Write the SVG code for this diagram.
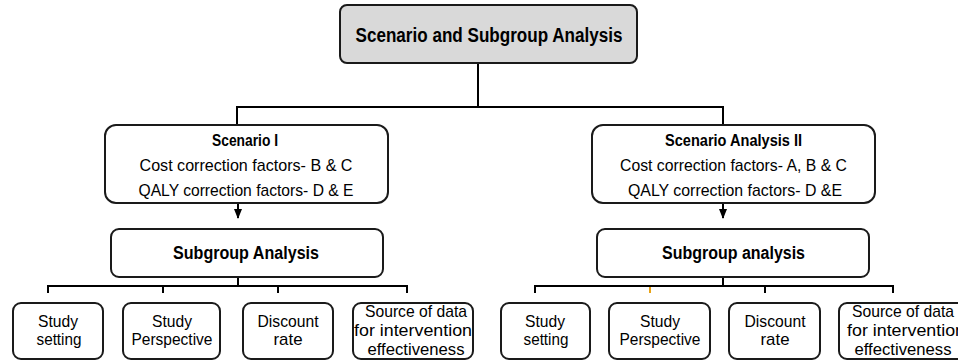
<svg xmlns="http://www.w3.org/2000/svg" width="958" height="361" viewBox="0 0 958 361">
<style>
.box{fill:#ffffff;stroke:#1a1a1a;stroke-width:2}
.top{fill:#d9d9d9;stroke:#1a1a1a;stroke-width:2}
.ln{fill:none;stroke:#000;stroke-width:2}
text{font-family:"Liberation Sans",Arial,sans-serif;fill:#000;text-anchor:middle}
.b{font-weight:bold}
.m{font-size:17px}
.s{font-size:17px}
</style>
<defs>
<marker id="ah" markerWidth="10" markerHeight="8" refX="9" refY="4" orient="auto" markerUnits="userSpaceOnUse">
<path d="M0,0 L10,4 L0,8 Z" fill="#000"/>
</marker>
</defs>
<g id="connectors">
<path class="ln" d="M478,63 V107 M237,107 H723 M237,106 V125 M723,106 V125"/>
<path class="ln" d="M238,203 V218" marker-end="url(#ah)"/>
<path class="ln" d="M723,203 V218" marker-end="url(#ah)"/>
<path class="ln" d="M238,277 V286 M48,286 H407 M48,285 V293 M163,285 V293 M278,285 V293 M407,285 V293"/>
<path class="ln" d="M723,277 V286 M535,286 H893 M535,285 V293 M765,285 V293 M893,285 V293"/>
<path d="M650,287 V293" stroke="#e8a317" stroke-width="2" fill="none"/>
</g>
<g id="root">
<rect class="top" x="340" y="5" width="297" height="58" rx="7"/>
<text class="b" x="489" y="42" font-size="20" textLength="267" lengthAdjust="spacingAndGlyphs">Scenario and Subgroup Analysis</text>
</g>
<g id="scenario1">
<rect class="box" x="105" y="125" width="283" height="78" rx="11"/>
<text class="b m" x="245" y="146" textLength="66" lengthAdjust="spacingAndGlyphs">Scenario I</text>
<text class="m" x="246" y="171" textLength="213" lengthAdjust="spacingAndGlyphs">Cost correction factors- B &amp; C</text>
<text class="m" x="246" y="196" textLength="215" lengthAdjust="spacingAndGlyphs">QALY correction factors- D &amp; E</text>
</g>
<g id="scenario2">
<rect class="box" x="592" y="125" width="283" height="78" rx="11"/>
<text class="b m" x="733.5" y="146" textLength="137" lengthAdjust="spacingAndGlyphs">Scenario Analysis II</text>
<text class="m" x="733.5" y="171" textLength="227" lengthAdjust="spacingAndGlyphs">Cost correction factors- A, B &amp; C</text>
<text class="m" x="735" y="196" textLength="214" lengthAdjust="spacingAndGlyphs">QALY correction factors- D &amp;E</text>
</g>
<g id="subgroup1">
<rect class="box" x="111" y="229" width="272" height="48" rx="8"/>
<text class="b" x="246" y="259" font-size="18" textLength="146" lengthAdjust="spacingAndGlyphs">Subgroup Analysis</text>
</g>
<g id="subgroup2">
<rect class="box" x="597" y="229" width="272" height="48" rx="8"/>
<text class="b" x="733.5" y="259" font-size="18" textLength="143" lengthAdjust="spacingAndGlyphs">Subgroup analysis</text>
</g>
<g id="l-setting">
<rect class="box" x="13" y="303" width="90" height="56" rx="8"/>
<text class="s" x="58" y="327" textLength="40" lengthAdjust="spacingAndGlyphs">Study</text>
<text class="s" x="59" y="345" textLength="45" lengthAdjust="spacingAndGlyphs">setting</text>
</g>
<g id="l-perspective">
<rect class="box" x="123" y="303" width="97" height="56" rx="8"/>
<text class="s" x="172" y="327" textLength="40" lengthAdjust="spacingAndGlyphs">Study</text>
<text class="s" x="172" y="345" textLength="81" lengthAdjust="spacingAndGlyphs">Perspective</text>
</g>
<g id="l-discount">
<rect class="box" x="243" y="303" width="90" height="56" rx="8"/>
<text class="s" x="288" y="327" textLength="61" lengthAdjust="spacingAndGlyphs">Discount</text>
<text class="s" x="288" y="345" textLength="29" lengthAdjust="spacingAndGlyphs">rate</text>
</g>
<g id="l-source">
<rect class="box" x="353" y="303" width="120" height="56" rx="8"/>
<text class="s" x="416" y="317" textLength="102" lengthAdjust="spacingAndGlyphs">Source of data</text>
<text class="s" x="413" y="336" textLength="118" lengthAdjust="spacingAndGlyphs">for intervention</text>
<text class="s" x="416" y="355" textLength="97" lengthAdjust="spacingAndGlyphs">effectiveness</text>
</g>
<g id="r-setting">
<rect class="box" x="501" y="303" width="89" height="56" rx="8"/>
<text class="s" x="545" y="327" textLength="40" lengthAdjust="spacingAndGlyphs">Study</text>
<text class="s" x="546" y="345" textLength="45" lengthAdjust="spacingAndGlyphs">setting</text>
</g>
<g id="r-perspective">
<rect class="box" x="609" y="303" width="101" height="56" rx="8"/>
<text class="s" x="660" y="327" textLength="40" lengthAdjust="spacingAndGlyphs">Study</text>
<text class="s" x="660" y="345" textLength="81" lengthAdjust="spacingAndGlyphs">Perspective</text>
</g>
<g id="r-discount">
<rect class="box" x="729" y="303" width="91" height="56" rx="8"/>
<text class="s" x="775" y="327" textLength="61" lengthAdjust="spacingAndGlyphs">Discount</text>
<text class="s" x="775" y="345" textLength="29" lengthAdjust="spacingAndGlyphs">rate</text>
</g>
<g id="r-source">
<rect class="box" x="839" y="303" width="126" height="56" rx="8"/>
<text class="s" x="903" y="317" textLength="102" lengthAdjust="spacingAndGlyphs">Source of data</text>
<text class="s" x="906" y="336" textLength="118" lengthAdjust="spacingAndGlyphs">for intervention</text>
<text class="s" x="903" y="355" textLength="97" lengthAdjust="spacingAndGlyphs">effectiveness</text>
</g>
</svg>
